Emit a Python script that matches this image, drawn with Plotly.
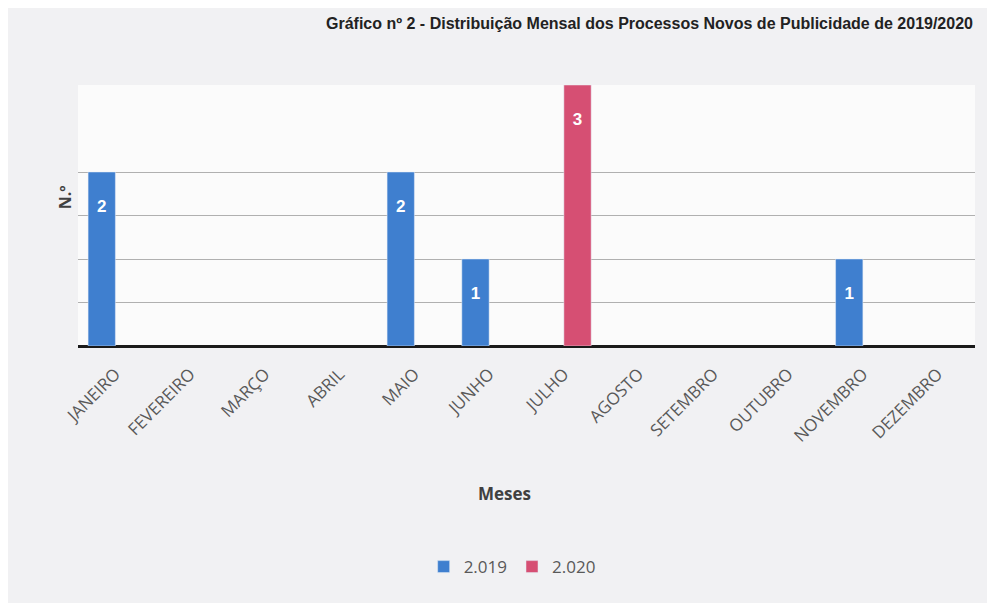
import plotly.graph_objects as go

meses = ["JANEIRO", "FEVEREIRO", "MARÇO", "ABRIL", "MAIO", "JUNHO", "JULHO",
         "AGOSTO", "SETEMBRO", "OUTUBRO", "NOVEMBRO", "DEZEMBRO"]
v2019 = [2, None, None, None, 2, 1, None, None, None, None, 1, None]
v2020 = [None, None, None, None, None, None, 3, None, None, None, None, None]
grelha = [0.5, 1, 1.5, 2]

titulo = "Gráfico nº 2 - Distribuição Mensal dos Processos Novos de Publicidade de 2019/2020"

lbl = dict(color="white", size=17, family="Liberation Sans")
fig = go.Figure()
fig.add_trace(go.Bar(name="2.019", x=meses, y=v2019, marker_color="#3f7fcf",
                     textposition="inside", insidetextanchor="end",
                     textfont=lbl, texttemplate=" <br><b>%{y}</b>"))
fig.add_trace(go.Bar(name="2.020", x=meses, y=v2020, marker_color="#d64f73",
                     textposition="inside", insidetextanchor="end",
                     textfont=lbl, texttemplate=" <br><b>%{y}</b>"))

fig.update_layout(
    width=987, height=595,
    margin=dict(l=70, r=20, t=77, b=257),
    paper_bgcolor="#f1f1f3", plot_bgcolor="#fbfbfb",
    barmode="group", bargap=0.27, bargroupgap=0,
    font=dict(family="Open Sans", color="#595959"),
    showlegend=True,
    legend=dict(orientation="h", x=0.484, xanchor="center", y=-0.847, yanchor="middle",
                font=dict(size=17, color="#595959", family="Open Sans"),
                bgcolor="rgba(0,0,0,0)"),
)
fig.update_xaxes(tickangle=-45, tickfont=dict(size=17, color="#595959"),
                 showline=False, ticks="", ticklabelstandoff=14)
fig.update_yaxes(range=[0, 3], tickvals=grelha, showticklabels=False,
                 gridcolor="#b0b0b0", gridwidth=1, zeroline=True,
                 zerolinecolor="#1a1a1a", zerolinewidth=3)

fig.add_annotation(text="<b>Meses</b>", xref="paper", yref="paper", x=0.475, y=-0.567,
                   xanchor="center", yanchor="middle", showarrow=False,
                   font=dict(size=17, color="#404040", family="Open Sans"))
fig.add_annotation(text="<b>N.º</b>", xref="paper", yref="paper", x=-0.0145, y=0.57,
                   xanchor="center", yanchor="middle", textangle=-90, showarrow=False,
                   font=dict(size=16, color="#404040", family="Open Sans"))
fig.add_annotation(text="<b>" + titulo + "</b>", xref="paper", yref="paper",
                   x=1.0, xanchor="right", y=1.235, yanchor="middle", showarrow=False,
                   font=dict(size=16, color="#222222", family="Liberation Sans"))

fig.write_html("out.html")
